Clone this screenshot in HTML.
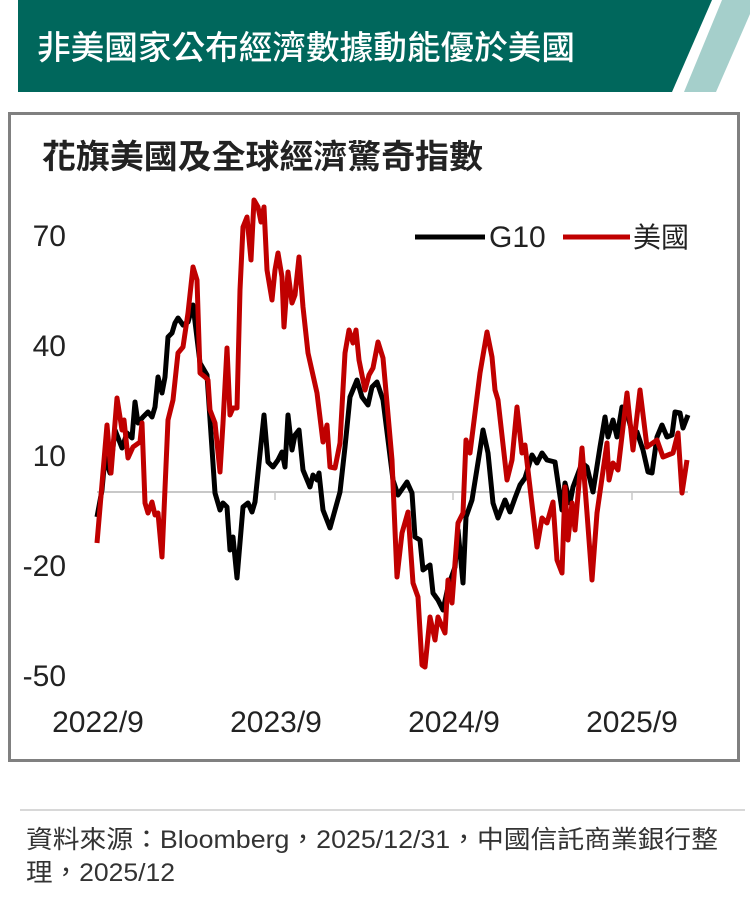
<!DOCTYPE html>
<html><head><meta charset="utf-8"><style>
body{margin:0;width:750px;height:904px;background:#fff;overflow:hidden;font-family:"Liberation Sans","Noto Sans CJK TC",sans-serif;}
</style></head><body>
<svg width="750" height="904" xmlns="http://www.w3.org/2000/svg" style="position:absolute;left:0;top:0">
<polygon points="18,0 712,0 672,92 18,92" fill="#00675c"/>
<polygon points="722,0 750,0 750,14 716,92 684,92" fill="#a5cfcb"/>
<text x="37" y="59" font-size="33" fill="#fff" font-family="Liberation Sans,Noto Sans CJK TC,sans-serif" font-weight="500" textLength="538" lengthAdjust="spacingAndGlyphs">非美國家公布經濟數據動能優於美國</text>
<rect x="9.5" y="113.5" width="729" height="647" fill="#fff" stroke="#808080" stroke-width="3"/>
<text x="42" y="168" font-size="33" fill="#222" font-weight="bold" font-family="Liberation Sans,Noto Sans CJK TC,sans-serif" textLength="441" lengthAdjust="spacingAndGlyphs">花旗美國及全球經濟驚奇指數</text>
<g font-size="30" fill="#222" font-family="Liberation Sans,sans-serif">
<text x="66" y="246" text-anchor="end">70</text><text x="66" y="356" text-anchor="end">40</text><text x="66" y="466" text-anchor="end">10</text><text x="66" y="576" text-anchor="end">-20</text><text x="66" y="686" text-anchor="end">-50</text>
<g text-anchor="middle"><text x="98" y="732">2022/9</text><text x="276" y="732">2023/9</text><text x="454" y="732">2024/9</text><text x="632" y="732">2025/9</text></g>
</g>
<line x1="97" y1="492" x2="688" y2="492" stroke="#c8c8c8" stroke-width="2"/>
<g stroke="#c8c8c8" stroke-width="1.5"><line x1="275" y1="492" x2="275" y2="500"/><line x1="453" y1="492" x2="453" y2="500"/><line x1="632" y1="492" x2="632" y2="500"/></g>
<polyline fill="none" stroke="#000" stroke-width="5" stroke-linejoin="round" points="97,517 102,490 105,457 110,473 115,430 122,448 127,433 132,438 135,402 138,423 143,417 148,412 152,417 155,407 158,377 162,393 165,377 168,337 172,333 175,323 178,318 183,325 188,322 193,305 200,363 207,375 215,493 220,510 223,503 227,507 230,550 233,537 237,578 243,507 248,503 252,512 255,502 264,415 268,462 273,467 278,460 282,452 285,467 288,415 292,450 295,435 299,430 303,470 310,487 313,475 317,480 319,473 323,510 330,528 335,510 340,492 345,447 350,397 357,380 362,397 368,405 372,387 377,382 383,400 393,480 398,495 407,482 412,493 415,537 420,540 423,570 430,565 433,593 438,600 443,610 448,587 455,567 458,530 463,583 466,517 472,500 480,450 483,430 488,453 493,503 498,518 505,500 510,512 515,498 520,485 525,478 532,455 537,463 542,453 547,460 555,462 562,510 565,483 570,503 573,487 582,463 587,467 593,492 600,447 605,417 608,437 613,420 617,437 622,407 627,413 632,432 637,432 643,450 648,472 652,473 657,437 662,425 667,437 672,435 675,412 680,413 683,428 688,415"/>
<polyline fill="none" stroke="#c00000" stroke-width="5" stroke-linejoin="round" points="97,543 107,425 111,473 117,398 122,430 124,420 128,458 133,447 140,442 142,423 145,503 148,513 152,502 155,515 158,513 162,557 168,420 173,400 178,353 183,347 188,313 193,267 197,280 200,373 205,377 208,380 210,410 215,423 220,472 223,423 227,348 230,415 233,408 237,408 240,290 243,227 247,217 251,260 254,200 258,207 261,222 264,207 267,270 272,300 275,270 278,253 282,277 284,327 288,272 292,303 295,295 299,257 303,307 308,353 317,393 323,442 327,425 330,467 335,468 340,443 345,353 349,330 353,343 356,330 359,360 365,390 369,375 373,368 378,342 383,358 387,403 392,460 397,577 402,533 408,512 413,583 418,597 422,665 425,667 430,617 435,640 438,617 445,633 448,580 452,603 458,523 463,513 466,440 470,453 480,373 487,332 492,357 495,390 498,400 507,480 512,460 517,407 522,453 525,445 537,547 542,518 547,523 553,502 557,560 562,573 565,487 568,540 572,503 575,530 582,448 587,513 592,580 597,513 607,443 609,480 613,463 618,470 627,393 633,450 640,390 647,447 657,440 663,457 673,453 678,433 682,493 687,460"/>
<line x1="415" y1="237" x2="485" y2="237" stroke="#000" stroke-width="5"/>
<text x="489" y="247" font-size="30" fill="#222" font-family="Liberation Sans,sans-serif">G10</text>
<line x1="563" y1="237" x2="630" y2="237" stroke="#c00000" stroke-width="5"/>
<text x="633" y="247" font-size="28" fill="#222" font-family="Liberation Sans,Noto Sans CJK TC,sans-serif">美國</text>
<line x1="20" y1="810" x2="745" y2="810" stroke="#cccccc" stroke-width="1.5"/>
<text x="26" y="848" font-size="25" fill="#333" font-family="Liberation Sans,Noto Sans CJK TC,sans-serif" textLength="692" lengthAdjust="spacingAndGlyphs">資料來源：Bloomberg，2025/12/31，中國信託商業銀行整</text>
<text x="26" y="881" font-size="25" fill="#333" font-family="Liberation Sans,Noto Sans CJK TC,sans-serif" textLength="149" lengthAdjust="spacingAndGlyphs">理，2025/12</text>
</svg>
</body></html>
